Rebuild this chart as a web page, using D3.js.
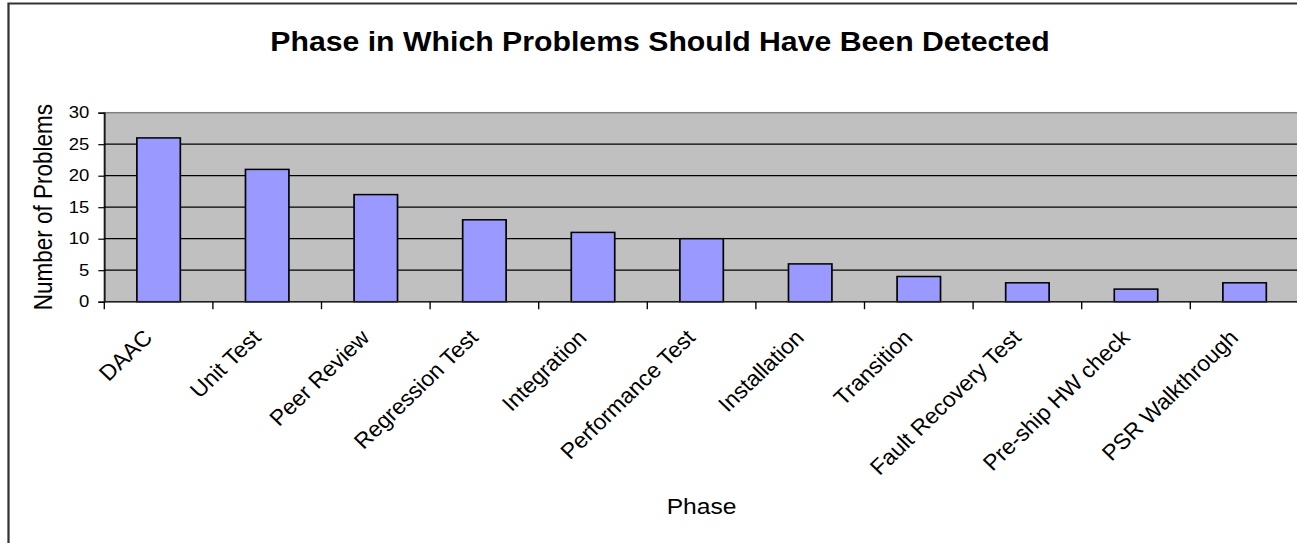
<!DOCTYPE html>
<html>
<head>
<meta charset="utf-8">
<script src="https://cdn.jsdelivr.net/npm/d3@7"></script>
<style>
  html, body { margin: 0; padding: 0; background: #fff; overflow: hidden; }
  svg { display: block; }
  text { font-family: "Liberation Sans", Arial, sans-serif; fill: #000; }
</style>
</head>
<body>
<svg id="chart"></svg>
<script>
// Chart data
const phases = ["DAAC", "Unit Test", "Peer Review", "Regression Test", "Integration",
  "Performance Test", "Installation", "Transition", "Fault Recovery Test",
  "Pre-ship HW check", "PSR Walkthrough"];
const problemCounts = [26, 21, 17, 13, 11, 10, 6, 4, 3, 2, 3];
const yTicks = [0, 5, 10, 15, 20, 25, 30];
const titleText = "Phase in Which Problems Should Have Been Detected";
const xTitle = "Phase";
const yTitle = "Number of Problems";

// The drawing is slightly wider than tall in its proportions: a horizontal
// stretch factor is applied through the viewBox.
const W = 1297, H = 543, SX = 1.12;
const iw = W / SX;
const px = v => v / SX;   // page x -> inner x

const svg = d3.select("#chart")
  .attr("width", W).attr("height", H)
  .attr("viewBox", `0 0 ${iw} ${H}`)
  .attr("preserveAspectRatio", "none");

// Outer chart border
svg.append("rect")
  .attr("x", px(8.5)).attr("y", 3.5)
  .attr("width", px(1400)).attr("height", 700)
  .attr("fill", "#fff").attr("stroke", "#333").attr("stroke-width", 2);

const plot = { left: px(104.3), right: px(104.3 + 11 * 108.6), top: 112.7, bottom: 301.7 };

const x = d3.scaleBand().domain(phases).range([plot.left, plot.right])
  .paddingInner(0.6).paddingOuter(0.3);
const xb = d3.scaleBand().domain(phases).range([plot.left, plot.right]);
const y = d3.scaleLinear().domain([0, 30]).range([plot.bottom, plot.top]);

// Plot area
svg.append("rect")
  .attr("x", plot.left).attr("y", plot.top)
  .attr("width", plot.right - plot.left).attr("height", plot.bottom - plot.top)
  .attr("fill", "#C0C0C0").attr("stroke", "#808080").attr("stroke-width", 1.5);

// Gridlines
svg.append("g").selectAll("line")
  .data(yTicks.filter(t => t > 0 && t < 30))
  .join("line")
  .attr("x1", plot.left).attr("x2", plot.right)
  .attr("y1", d => y(d)).attr("y2", d => y(d))
  .attr("stroke", "#000").attr("stroke-width", 1.2);

// Bars
svg.append("g").selectAll("rect")
  .data(phases)
  .join("rect")
  .attr("x", d => x(d))
  .attr("width", x.bandwidth())
  .attr("y", (d, i) => y(problemCounts[i]))
  .attr("height", (d, i) => y(0) - y(problemCounts[i]))
  .attr("fill", "#9999FF").attr("stroke", "#000").attr("stroke-width", 1.5);

// Y axis
const yAxis = d3.axisLeft(y).tickValues(yTicks).tickSize(px(6)).tickPadding(px(9));
const gy = svg.append("g").attr("transform", `translate(${plot.left},0)`).call(yAxis);
gy.select(".domain").attr("stroke", "#000").attr("stroke-width", 1.2);
gy.selectAll(".tick line").attr("stroke", "#000").attr("stroke-width", 1.2);
gy.selectAll(".tick text")
  .attr("font-family", "Liberation Sans, Arial, sans-serif")
  .attr("font-size", 16.5).attr("fill", "#000");

// X axis line and tick marks at category boundaries
svg.append("line")
  .attr("x1", plot.left).attr("x2", plot.right)
  .attr("y1", plot.bottom).attr("y2", plot.bottom)
  .attr("stroke", "#222").attr("stroke-width", 1.5);
const bounds = phases.map(p => xb(p)).concat([plot.right]);
svg.append("g").selectAll("line")
  .data(bounds)
  .join("line")
  .attr("x1", d => d).attr("x2", d => d)
  .attr("y1", plot.bottom).attr("y2", plot.bottom + 7.5)
  .attr("stroke", "#000").attr("stroke-width", 1.2);

// Category labels, rotated (closer to a true 45° on the page)
const LABEL_K = 0.93;
svg.append("g").selectAll("text")
  .data(phases)
  .join("text")
  .attr("transform", d =>
    `translate(${xb(d) + xb.bandwidth() / 2 - px(5)},339) scale(${LABEL_K},1) rotate(-45)`)
  .attr("text-anchor", "end")
  .attr("font-size", 22)
  .text(d => d);

// Title
svg.append("text")
  .attr("x", px(660)).attr("y", 51.5)
  .attr("text-anchor", "middle")
  .attr("font-size", 27).attr("font-weight", "bold")
  .text(titleText);

// Axis titles
svg.append("text")
  .attr("x", (plot.left + plot.right) / 2).attr("y", 514)
  .attr("text-anchor", "middle")
  .attr("font-size", 22)
  .text(xTitle);

svg.append("text")
  .attr("transform", `translate(${px(52.5)},${(plot.top + plot.bottom) / 2}) rotate(-90)`)
  .attr("text-anchor", "middle")
  .attr("font-size", 22.5)
  .text(yTitle);
</script>
</body>
</html>
